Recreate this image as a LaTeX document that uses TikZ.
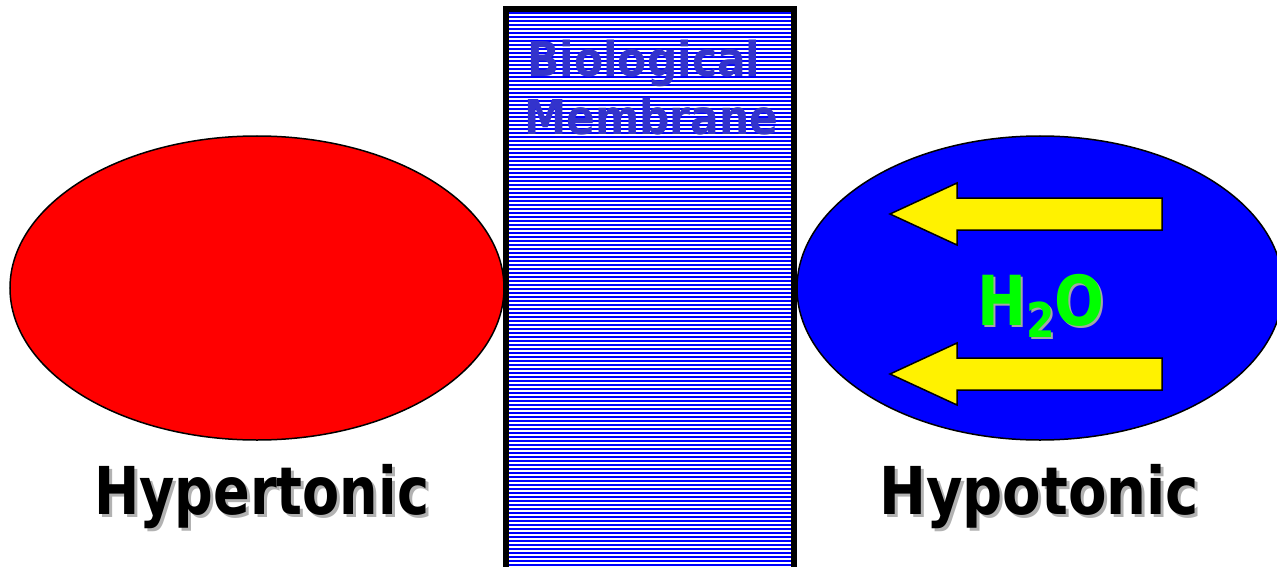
\documentclass[tikz,border=0pt]{standalone}
\usepackage{fontspec}
\usepackage{graphicx}
\setmainfont{DejaVu Sans}
\begin{document}
\begin{tikzpicture}[x=1pt,y=-1pt,
  cellout/.style={draw=black,line width=1.5pt},
  flowarrow/.style={draw=black,line width=1.5pt,fill=yellow,line join=miter},
  biglabel/.style={inner sep=0pt,anchor=base west,font=\bfseries\fontsize{66}{70}\selectfont},
  memlabel/.style={inner sep=0pt,anchor=base west,text=memblue,font=\bfseries\fontsize{48}{52}\selectfont},
  shadowtxt/.style={text=black!30}]
\definecolor{memblue}{RGB}{51,51,204}
\definecolor{watergreen}{RGB}{0,255,0}
\clip (0,0) rectangle (1277,567);
\fill[white] (0,0) rectangle (1277,567);
% cells
\draw[cellout,fill=red] (257,288) ellipse [x radius=247, y radius=152];
\draw[cellout,fill=blue] (1040,288) ellipse [x radius=243, y radius=152];
% membrane
\fill[white] (506,9) rectangle (794,580);
\foreach \yy in {13,17,...,571} {
  \fill[blue] (506,\yy-1.1) rectangle (794,\yy+1.1);
}
\draw[line width=6pt] (506,590) -- (506,9) -- (794,9) -- (794,590);
\node[memlabel] (memA) at (527,77) {\scalebox{0.885}[1]{Biological}};
\node[memlabel] (memB) at (524,135) {\scalebox{0.885}[1]{Membrane}};
% arrows
\draw[flowarrow] (890,214) -- (957,183) -- (957,198) -- (1162,198) -- (1162,230) -- (957,230) -- (957,245) -- cycle;
\draw[flowarrow] (890,374) -- (957,343) -- (957,358) -- (1162,358) -- (1162,390) -- (957,390) -- (957,405) -- cycle;
% H2O
\node[inner sep=0pt,anchor=base west,text=black!35,font=\bfseries\fontsize{69}{72}\selectfont] (h2oS) at (979,327) {\scalebox{0.85}[1]{H\raisebox{-12pt}{\fontsize{48}{50}\selectfont 2}O}};
\node[inner sep=0pt,anchor=base west,text=watergreen,font=\bfseries\fontsize{69}{72}\selectfont] (h2o) at (977,325) {\scalebox{0.85}[1]{H\raisebox{-12pt}{\fontsize{48}{50}\selectfont 2}O}};
% labels
\node[biglabel,shadowtxt] (hyperS) at (97,517) {\scalebox{0.82}[1]{Hypertonic}};
\node[biglabel] (hyper) at (94,514) {\scalebox{0.82}[1]{Hypertonic}};
\node[biglabel,shadowtxt] (hypoS) at (882,517) {\scalebox{0.85}[1]{Hypotonic}};
\node[biglabel] (hypo) at (879,514) {\scalebox{0.85}[1]{Hypotonic}};
\end{tikzpicture}
\end{document}
